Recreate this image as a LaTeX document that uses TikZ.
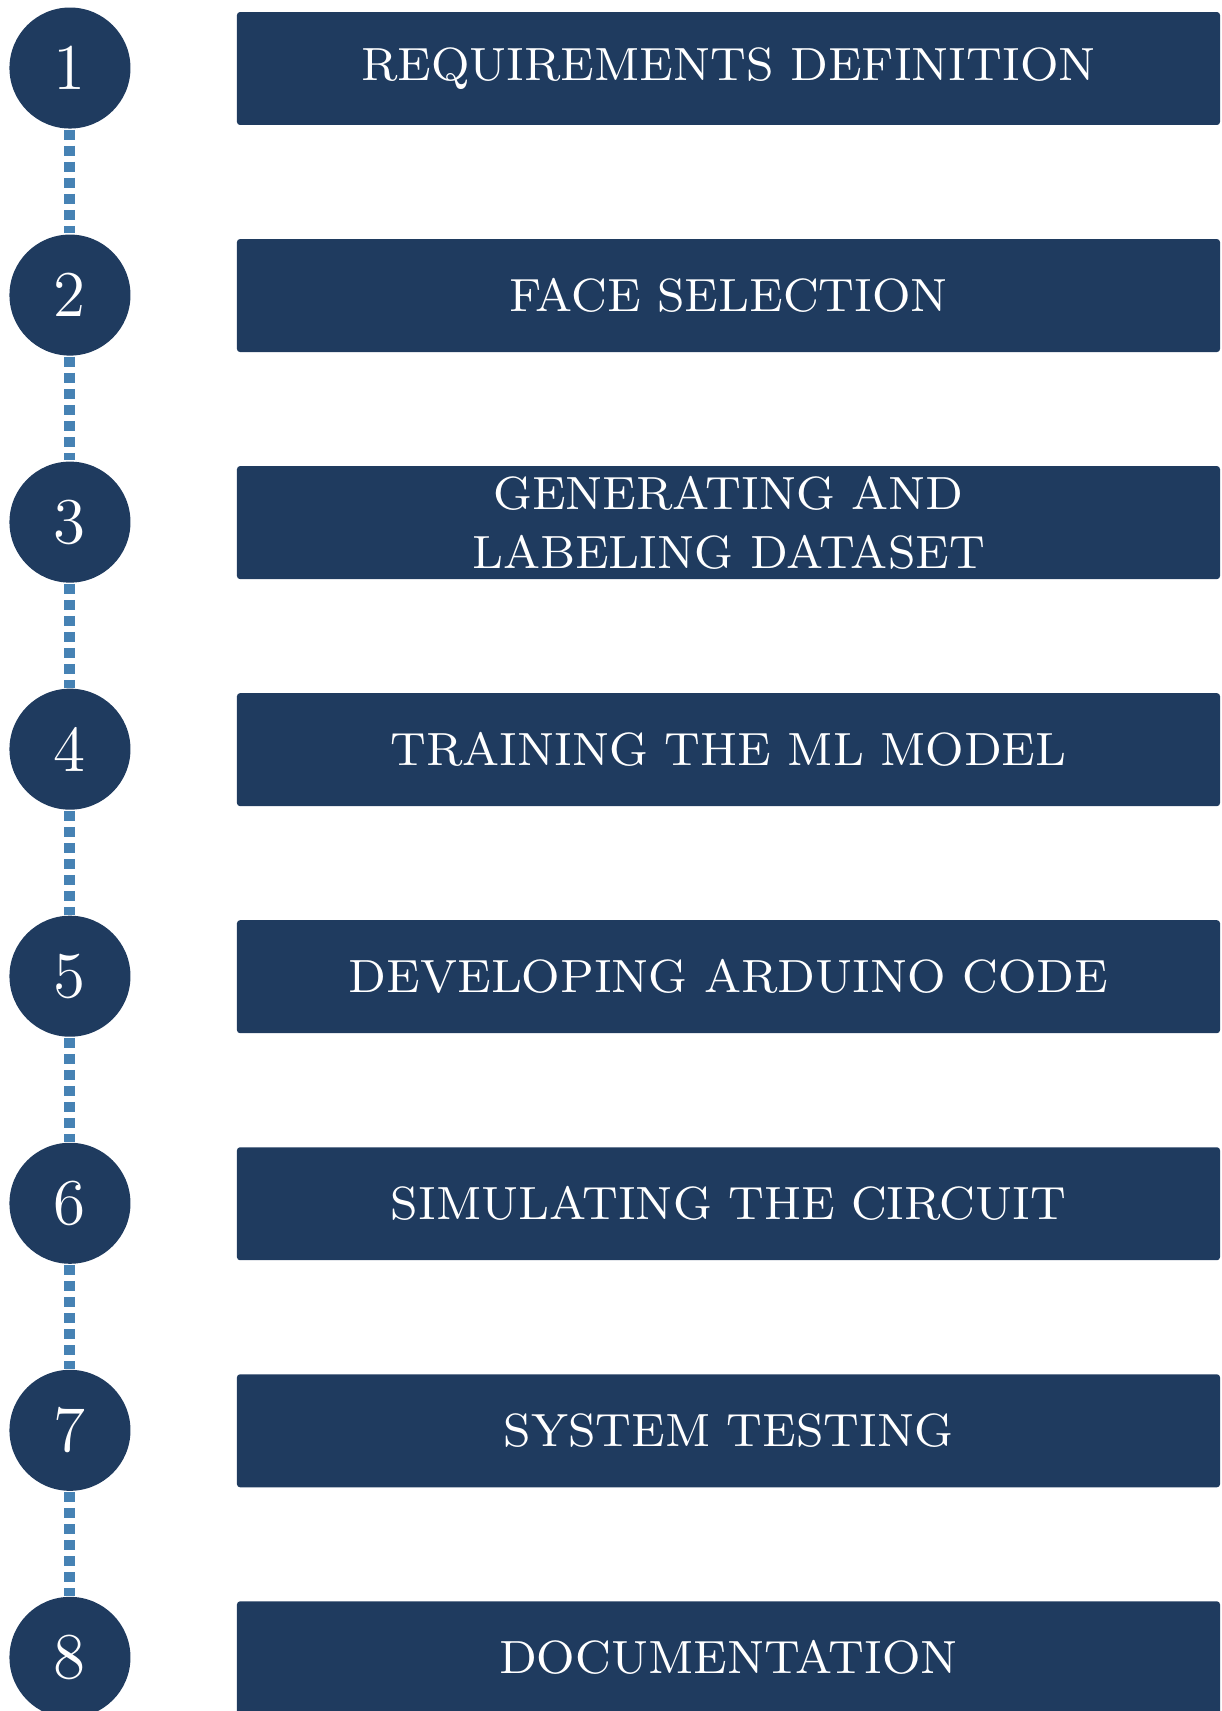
\documentclass[tikz,border=0pt]{standalone}
\usepackage{tikz}

\definecolor{navy}{HTML}{1F3B5F}
\definecolor{dotblue}{HTML}{4682B4}

\begin{document}
\begin{tikzpicture}[
        stepnum/.style={draw=none, fill=navy, circle, minimum size=0.749cm, inner sep=0pt, text=white, font=\fontsize{11.5}{13}\selectfont},
        stepbox/.style={draw=none, fill=navy, rectangle, rounded corners=0.53pt, minimum width=6.083cm, minimum height=0.699cm, inner sep=0pt, text=white, align=center, font=\fontsize{8.2}{10.4}\selectfont},
        link/.style={dotblue, line width=1.94pt, dash pattern=on 1.76pt off 1.06pt}]
        \useasboundingbox (0,0) rectangle (7.556,-10.588);

        \node[stepnum] (c1) at (0.433,-0.421) {1};
        \node[stepnum] (c2) at (0.433,-1.826) {2};
        \node[stepnum] (c3) at (0.433,-3.231) {3};
        \node[stepnum] (c4) at (0.433,-4.636) {4};
        \node[stepnum] (c5) at (0.433,-6.041) {5};
        \node[stepnum] (c6) at (0.433,-7.446) {6};
        \node[stepnum] (c7) at (0.433,-8.851) {7};
        \node[stepnum] (c8) at (0.433,-10.256) {8};

        \node[stepbox] (b1) at (4.508,-0.424) {REQUIREMENTS DEFINITION};
        \node[stepbox] (b2) at (4.508,-1.829) {FACE SELECTION};
        \node[stepbox] (b3) at (4.508,-3.234) {GENERATING AND\\LABELING DATASET};
        \node[stepbox] (b4) at (4.508,-4.639) {TRAINING THE ML MODEL};
        \node[stepbox] (b5) at (4.508,-6.044) {DEVELOPING ARDUINO CODE};
        \node[stepbox] (b6) at (4.508,-7.449) {SIMULATING THE CIRCUIT};
        \node[stepbox] (b7) at (4.508,-8.854) {SYSTEM TESTING};
        \node[stepbox] (b8) at (4.508,-10.259) {DOCUMENTATION};

        \draw[link] (c1) -- (c2);
        \draw[link] (c2) -- (c3);
        \draw[link] (c3) -- (c4);
        \draw[link] (c4) -- (c5);
        \draw[link] (c5) -- (c6);
        \draw[link] (c6) -- (c7);
        \draw[link] (c7) -- (c8);
    \end{tikzpicture}
\end{document}
